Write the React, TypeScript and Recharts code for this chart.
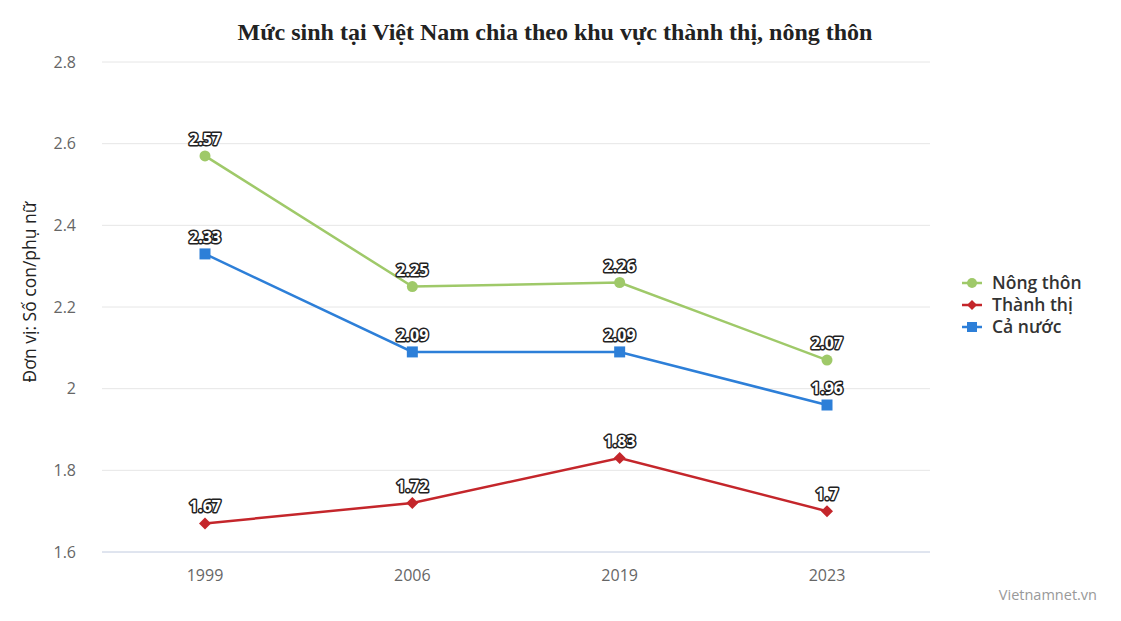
import React from "react";
import { LineChart, Line, XAxis, YAxis, CartesianGrid, LabelList } from "recharts";

const years = ["1999", "2006", "2019", "2023"];
const nongThon = [2.57, 2.25, 2.26, 2.07];
const thanhThi = [1.67, 1.72, 1.83, 1.7];
const caNuoc = [2.33, 2.09, 2.09, 1.96];
const yTicks = [1.6, 1.8, 2, 2.2, 2.4, 2.6, 2.8];

const GREEN = "#9fc969";
const RED = "#c4262b";
const BLUE = "#2d7fd8";

const data = years.map((y, i) => ({
  year: y,
  nongThon: nongThon[i],
  thanhThi: thanhThi[i],
  caNuoc: caNuoc[i],
}));

const FONT = "'Open Sans', 'DejaVu Sans', sans-serif";

function CircleDot(props: any) {
  const { cx, cy } = props;
  return <circle cx={cx} cy={cy} r={5.5} fill={GREEN} />;
}

function DiamondDot(props: any) {
  const { cx, cy } = props;
  const s = 6;
  return (
    <path
      d={`M${cx},${cy - s} L${cx + s},${cy} L${cx},${cy + s} L${cx - s},${cy} Z`}
      fill={RED}
    />
  );
}

function SquareDot(props: any) {
  const { cx, cy } = props;
  return <rect x={cx - 5.5} y={cy - 5.5} width={11} height={11} fill={BLUE} />;
}

function PointLabel(props: any) {
  const { x, y, value } = props;
  return (
    <text
      x={x}
      y={y - 11}
      textAnchor="middle"
      fontFamily={FONT}
      fontSize={16}
      fontWeight={700}
      fill="#fff"
      stroke="#222"
      strokeWidth={3}
      strokeLinejoin="round"
      paintOrder="stroke"
    >
      {String(value)}
    </text>
  );
}

const legendItems = [
  { name: "Nông thôn", color: GREEN, shape: "circle" },
  { name: "Thành thị", color: RED, shape: "diamond" },
  { name: "Cả nước", color: BLUE, shape: "square" },
];

function ChartLegend() {
  return (
    <g transform="translate(962, 272)">
      {legendItems.map((it, i) => {
        const cy = 11 + i * 22;
        return (
          <g key={it.name}>
            <line x1={0} x2={20} y1={cy} y2={cy} stroke={it.color} strokeWidth={2.5} />
            {it.shape === "circle" && <circle cx={10} cy={cy} r={5} fill={it.color} />}
            {it.shape === "diamond" && (
              <path d={`M10,${cy - 5} L15,${cy} L10,${cy + 5} L5,${cy} Z`} fill={it.color} />
            )}
            {it.shape === "square" && <rect x={5} y={cy - 5} width={10} height={10} fill={it.color} />}
            <text
              x={30}
              y={cy + 6}
              fontFamily={FONT}
              fontSize={17.5}
              fontWeight={600}
              fill="#333"
            >
              {it.name}
            </text>
          </g>
        );
      })}
    </g>
  );
}

export default function App() {
  return (
    <div style={{ position: "absolute", left: 0, top: 0, width: 1121, height: 621, background: "#fff" }}>
      <LineChart
        width={1121}
        height={621}
        data={data}
        margin={{ top: 62, right: 191, bottom: 39, left: 42 }}
      >
        <text
          x={555}
          y={40}
          textAnchor="middle"
          fontFamily="'Liberation Serif', 'Times New Roman', serif"
          fontSize={24}
          fontWeight={700}
          fill="#222"
        >
          Mức sinh tại Việt Nam chia theo khu vực thành thị, nông thôn
        </text>
        <text
          x={0}
          y={0}
          transform="translate(36, 292) rotate(-90)"
          textAnchor="middle"
          fontFamily={FONT}
          fontSize={17.5}
          fill="#222"
        >
          Đơn vị: Số con/phụ nữ
        </text>
        <text
          x={1097}
          y={600}
          textAnchor="end"
          fontFamily={FONT}
          fontSize={14.5}
          fill="#999"
        >
          Vietnamnet.vn
        </text>
        <ChartLegend />
        <CartesianGrid vertical={false} stroke="#e6e6e6" />
        <XAxis
          dataKey="year"
          axisLine={{ stroke: "#ccd6eb" }}
          tickLine={false}
          padding={{ left: 103, right: 103 }}
          tick={{ fontFamily: FONT, fontSize: 16, fill: "#666" }}
          tickMargin={12}
          height={30}
        />
        <YAxis
          domain={[1.6, 2.8]}
          ticks={yTicks}
          axisLine={false}
          tickLine={false}
          width={60}
          tickMargin={20}
          tick={{ fontFamily: FONT, fontSize: 16, fill: "#666" }}
          tickFormatter={(v: number) => String(Math.round(v * 10) / 10)}
        />
        <Line
          dataKey="nongThon"
          name="Nông thôn"
          stroke={GREEN}
          strokeWidth={2.5}
          dot={<CircleDot />}
          activeDot={false}
          isAnimationActive={false}
        >
          <LabelList dataKey="nongThon" content={<PointLabel />} />
        </Line>
        <Line
          dataKey="thanhThi"
          name="Thành thị"
          stroke={RED}
          strokeWidth={2.5}
          dot={<DiamondDot />}
          activeDot={false}
          isAnimationActive={false}
        >
          <LabelList dataKey="thanhThi" content={<PointLabel />} />
        </Line>
        <Line
          dataKey="caNuoc"
          name="Cả nước"
          stroke={BLUE}
          strokeWidth={2.5}
          dot={<SquareDot />}
          activeDot={false}
          isAnimationActive={false}
        >
          <LabelList dataKey="caNuoc" content={<PointLabel />} />
        </Line>
      </LineChart>
    </div>
  );
}
